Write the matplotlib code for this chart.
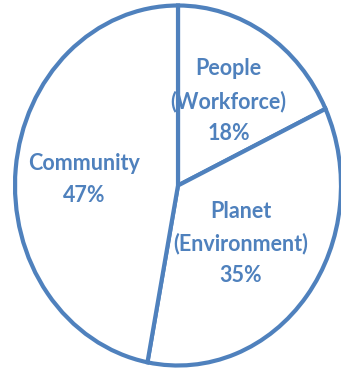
import matplotlib
matplotlib.use("Agg")
import matplotlib.pyplot as plt
import numpy as np

categories = ["People\n(Workforce)", "Planet\n(Environment)", "Community"]
shares = [18, 35, 47]
label_dist = [0.58, 0.49, 0.58]

blue = "#4F81BD"

fig = plt.figure(figsize=(3.41, 3.69), dpi=100)
ax = fig.add_axes([0, 0, 1, 1])

labels = ["%s\n%d%%" % (c, v) for c, v in zip(categories, shares)]
wedges, texts = ax.pie(shares, startangle=90, counterclock=False,
                       colors=["white"] * 3,
                       wedgeprops=dict(edgecolor=blue, linewidth=3),
                       labels=labels, labeldistance=0.55)

# put each label at its own distance inside the slice, centred
for w, t, d in zip(wedges, texts, label_dist):
    mid = np.deg2rad((w.theta1 + w.theta2) / 2)
    t.set_position((d * np.cos(mid), d * np.sin(mid) - 0.02))
    t.set_ha("center")
    t.set_va("center")
    t.set_color(blue)
    t.set_fontsize(15.5)
    t.set_fontweight("bold")
    t.set_family("Lato")
    t.set_linespacing(1.62)

# the original pie is slightly squashed, so let the axes stretch it
ax.set_aspect("auto")
cx, cy, rx, ry = 178, 185.5, 163, 180
ax.set_xlim(-cx / rx, (341 - cx) / rx)
ax.set_ylim((cy - 369) / ry, cy / ry)
ax.axis("off")

fig.savefig("out.png", dpi=100, facecolor="white")
